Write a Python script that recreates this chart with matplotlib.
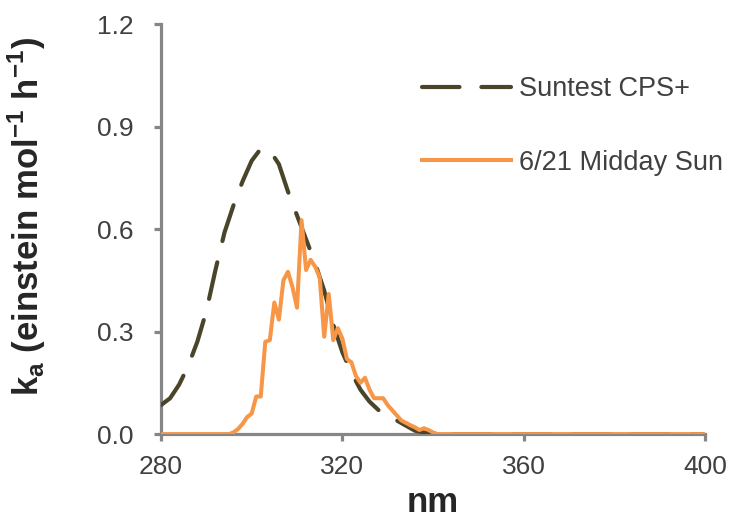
import matplotlib
matplotlib.use("Agg")
import matplotlib.pyplot as plt
import numpy as np

plt.rcParams['font.family'] = ['Liberation Sans', 'DejaVu Sans']
plt.rcParams['mathtext.fontset'] = 'custom'
plt.rcParams['mathtext.rm'] = 'Liberation Sans'
plt.rcParams['mathtext.bf'] = 'Liberation Sans:bold'

# Suntest CPS+ (nm, k_a)
suntest_nm = [280, 282, 284, 286, 288, 290, 292, 294, 296, 298, 300, 302, 304,
              306, 308, 310, 312, 314, 316, 318, 320, 322, 324, 326, 328, 330,
              332, 334, 336, 338, 340, 350, 360, 370, 380, 390, 400]
suntest_ka = [0.085, 0.105, 0.145, 0.20, 0.27, 0.36, 0.48, 0.59, 0.67, 0.74,
              0.80, 0.835, 0.83, 0.79, 0.71, 0.64, 0.57, 0.50, 0.42, 0.32,
              0.24, 0.18, 0.13, 0.095, 0.07, 0.05, 0.04, 0.025, 0.01, 0.005,
              0.0, 0.0, 0.0, 0.0, 0.0, 0.0, 0.0]

# 6/21 Midday Sun (nm, k_a)
sun_nm = [280, 285, 290, 295, 296, 297, 298, 299, 300, 301, 302, 303, 304, 305,
          306, 307, 308, 309, 310, 311, 312, 313, 314, 315, 316, 317, 318, 319,
          320, 321, 322, 323, 324, 325, 326, 327, 328, 329, 330, 331, 332, 333,
          334, 335, 336, 337, 338, 339, 340, 341, 350, 360, 370, 380, 390, 400]
sun_ka = [0.0, 0.0, 0.0, 0.0, 0.005, 0.015, 0.03, 0.05, 0.06, 0.11, 0.11, 0.27,
          0.275, 0.385, 0.335, 0.45, 0.475, 0.43, 0.37, 0.626, 0.48, 0.51, 0.49,
          0.46, 0.285, 0.41, 0.275, 0.31, 0.28, 0.22, 0.21, 0.17, 0.15, 0.165,
          0.13, 0.105, 0.105, 0.105, 0.085, 0.07, 0.055, 0.04, 0.033, 0.026,
          0.02, 0.012, 0.017, 0.012, 0.005, 0.0, 0.0, 0.0, 0.0, 0.0, 0.0, 0.0]

x_ticks = [280, 320, 360, 400]
y_ticks = [0.0, 0.3, 0.6, 0.9, 1.2]

fig = plt.figure(figsize=(7.32, 5.23), dpi=100)
ax = fig.add_axes([0.22, 0.170, 0.743, 0.784])

ax.plot(suntest_nm, suntest_ka, color='#4a452a', lw=3.0, dashes=(9, 5.25),
        dash_capstyle='round', solid_capstyle='round', label='Suntest CPS+', zorder=2)
ax.plot(sun_nm, sun_ka, color='#F79646', lw=2.9, label='6/21 Midday Sun', zorder=3)

ax.set_xlim(280, 400)
ax.set_ylim(0, 1.2)
ax.set_xticks(x_ticks)
ax.set_xticklabels([str(t) for t in x_ticks])
ax.set_yticks(y_ticks)
ax.set_yticklabels([f"{t:.1f}" for t in y_ticks])

for s in ['top', 'right']:
    ax.spines[s].set_visible(False)
for s in ['left', 'bottom']:
    ax.spines[s].set_color('#868686')
    ax.spines[s].set_linewidth(2.3)
    ax.spines[s].set_zorder(1)
ax.tick_params(axis='both', colors='#868686', width=2.3, length=5,
               labelsize=19, labelcolor='#404040')
ax.tick_params(axis='y', pad=15)
ax.tick_params(axis='x', pad=10)

ax.set_xlabel('nm', fontsize=25, fontweight='bold', color='#262626', labelpad=5)
ax.set_ylabel(r'k$_\mathbf{a}$ (einstein mol$^{\mathbf{-1}}$ h$^{\mathbf{-1}}$)',
              fontsize=25, fontweight='bold', color='#262626')
ax.yaxis.set_label_coords(-0.208, 0.53)

leg = ax.legend(loc='upper left', bbox_to_anchor=(0.4596, 0.899), frameon=False,
                fontsize=19.5, handlelength=3.3, handletextpad=0.3,
                labelspacing=1.75, borderaxespad=0)
for t in leg.get_texts():
    t.set_color('#404040')

fig.savefig('out.png', dpi=100)
